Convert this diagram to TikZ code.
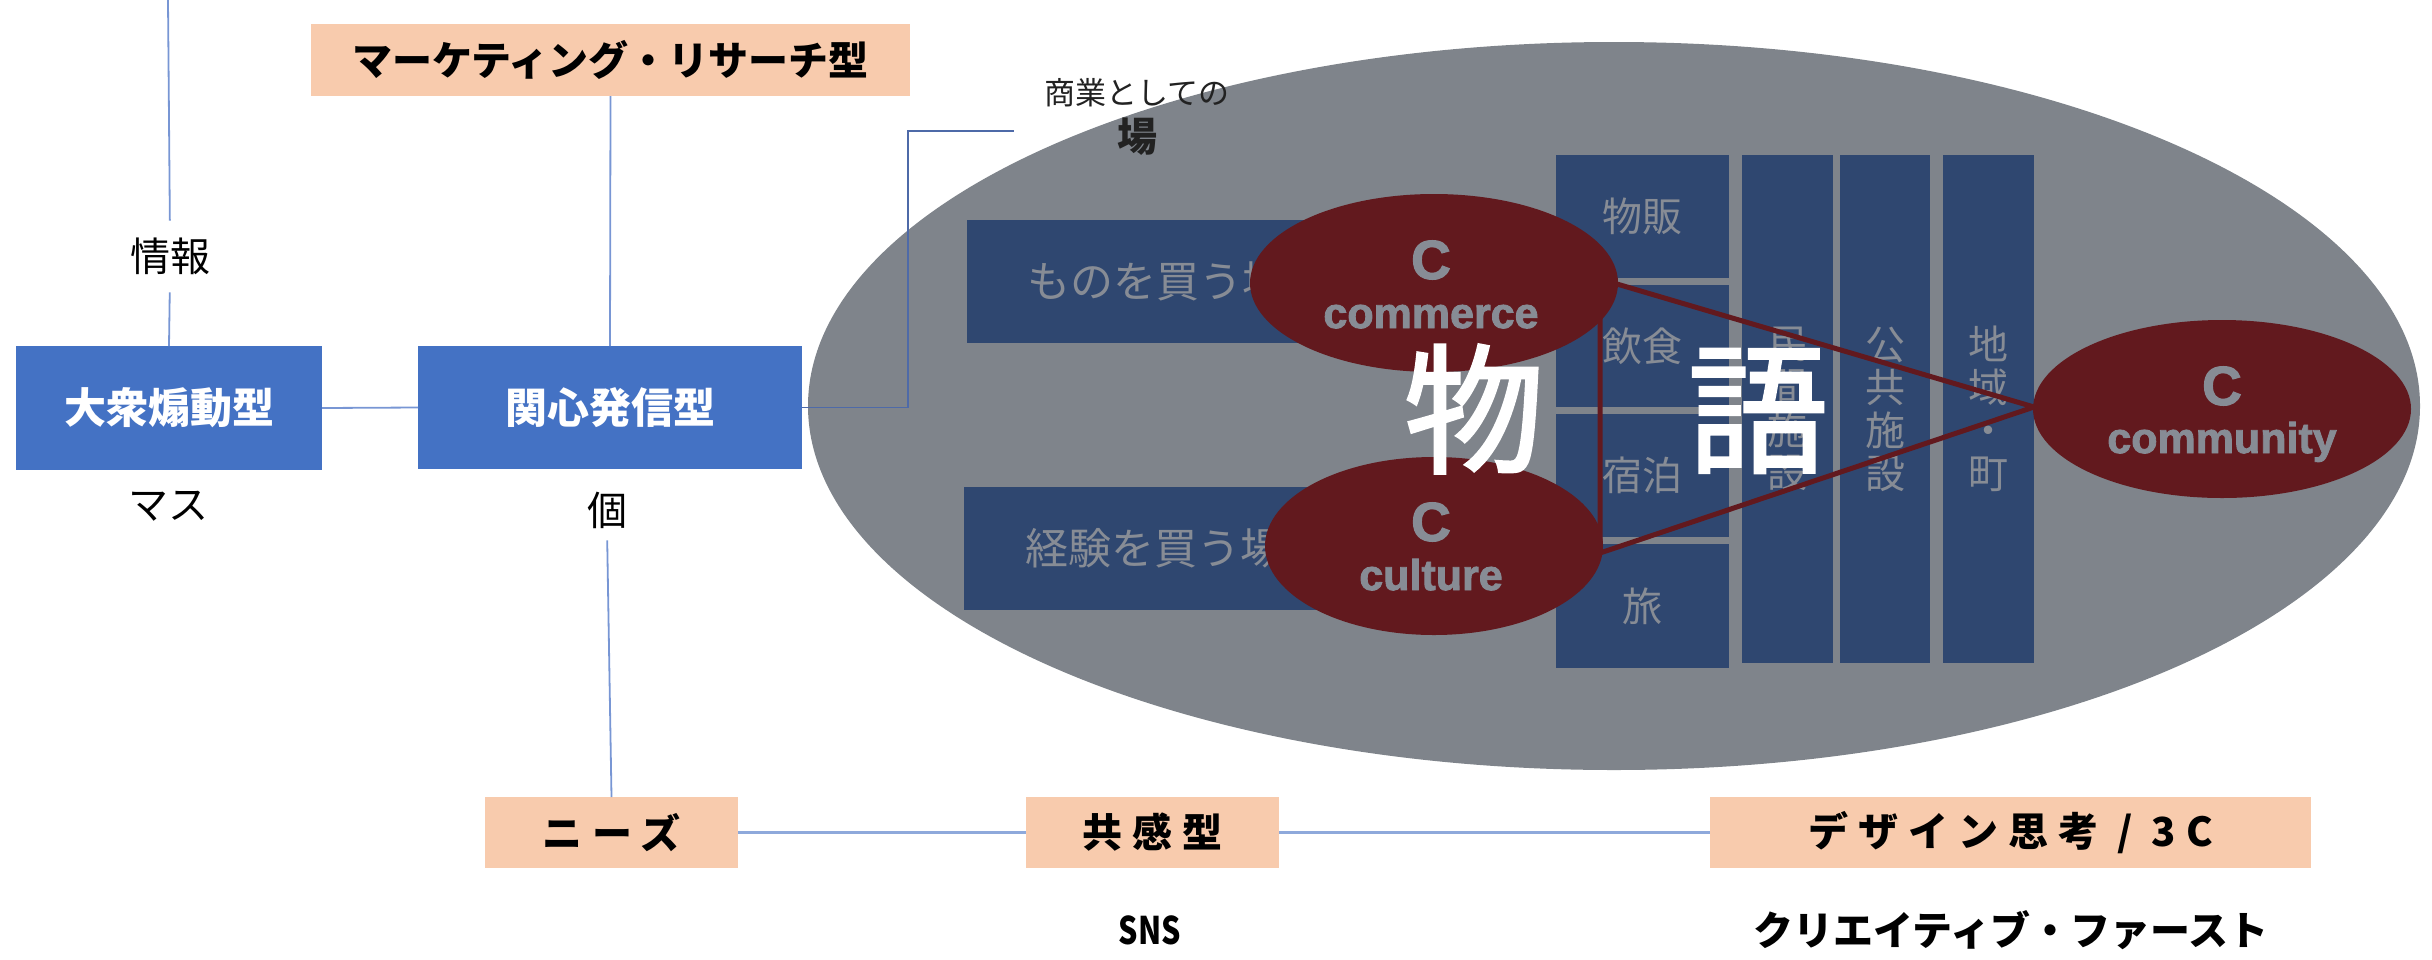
\documentclass[tikz,border=0pt]{standalone}
\usepackage{fontspec}
\usepackage{graphicx}
\setmainfont{Noto Sans CJK JP}
\newfontfamily\latf{Liberation Sans}[FakeBold=2]
\newfontfamily\medf{Noto Sans CJK JP}[FakeBold=2]
\usetikzlibrary{shapes.geometric}
\definecolor{boxblue}{HTML}{4472C4}
\definecolor{peach}{HTML}{F8CBAD}
\definecolor{ellgray}{HTML}{7F848B}
\definecolor{navy}{HTML}{2F4770}
\definecolor{navytext}{HTML}{878C95}
\definecolor{darkred}{HTML}{62191E}
\definecolor{lineblue}{HTML}{7896D4}
\definecolor{darkline}{HTML}{4E6AA8}
\definecolor{botline}{HTML}{8EA9DB}
\definecolor{lbltxt}{HTML}{222222}
\newcommand{\myfs}[1]{\fontsize{#1}{#1}\selectfont}
\begin{document}
\begin{tikzpicture}[x=1pt,y=-1pt,
  every node/.style={inner sep=0pt, outer sep=0pt},
  bluebox/.style={fill=boxblue, text=white, font=\bfseries\myfs{42}},
  peachbox/.style={fill=peach, text=black},
  navybox/.style={fill=navy, text=navytext, font=\myfs{40}},
  navycol/.style={fill=navy, text=navytext, align=center, minimum width=91, minimum height=508, font=\fontsize{40}{43}\selectfont},
  redell/.style={ellipse, fill=darkred},
  conn/.style={draw=lineblue, line width=1.8pt},
  darkconn/.style={draw=darkline, line width=1.5pt},
  botconn/.style={draw=botline, line width=3pt},
  lbltext/.style={text=black, font=\myfs{40}},
  ctext/.style={text=navytext, font=\latf\bfseries\myfs{55}},
  wtext/.style={text=navytext, font=\latf\bfseries\myfs{43}},
  bigw/.style={text=white, font=\medf\myfs{140}},
  bottxt/.style={font=\bfseries\myfs{40}\addfontfeatures{LetterSpace=25}},
]
\useasboundingbox (0,0) rectangle (2432,959);

% big gray ellipse
\node[ellipse, fill=ellgray, minimum width=1612, minimum height=728] (big) at (1614,406) {};

% navy rectangles
\node[navybox, font=\myfs{43}, minimum width=378, minimum height=123] (mono) at (1156,281.5) {ものを買う場};
\node[navybox, font=\myfs{43}, minimum width=381, minimum height=123] (keiken) at (1154.5,548.5) {経験を買う場};
\node[navybox, minimum width=173, minimum height=123] (buppan) at (1642.5,216.5) {物販};
\node[navybox, minimum width=173, minimum height=122] (inshoku) at (1642.5,346) {飲食};
\node[navybox, minimum width=173, minimum height=123] (shuku) at (1642.5,475.5) {宿泊};
\node[navybox, minimum width=173, minimum height=124] (tabi) at (1642.5,606) {旅};
\node[navycol] (minkan) at (1787.5,409) {民\\間\\施\\設};
\node[navycol, minimum width=90] (kokyo) at (1885,409) {公\\共\\施\\設};
\node[navycol] (chiiki) at (1988.5,409) {地\\域\\・\\町};

% triangle
\coordinate (t1) at (1600,279);
\coordinate (t2) at (2034,407);
\coordinate (t3) at (1600,553);
\draw[darkred, line width=5pt] (t1) -- (t2) -- (t3) -- cycle;

% red ellipses
\node[redell, minimum width=368, minimum height=178] (commerce) at (1434,283) {};
\node[redell, minimum width=338, minimum height=178] (culture) at (1434,546) {};
\node[redell, minimum width=378, minimum height=178] (community) at (2222,409) {};

\node[ctext] (c1) at (1431,260) {C};
\node[wtext, anchor=base] (w1) at (1431,328) {commerce};
\node[ctext] (c2) at (1431,522) {C};
\node[wtext, anchor=base] (w2) at (1431,590) {culture};
\node[ctext] (c3) at (2222,386) {C};
\node[wtext, anchor=base] (w3) at (2222,453) {community};

% big white characters
\node[bigw] (mono1) at (1474,409) {物};
\node[bigw] (go) at (1758,411) {語};

% labels at top of ellipse
\node[text=lbltxt, font=\myfs{31}] (shogyo) at (1137,93) {商業としての};
\node[text=lbltxt, font=\bfseries\myfs{40}] (ba) at (1137,137) {場};

% left blue boxes
\node[bluebox, minimum width=306, minimum height=124] (taishu) at (169,408) {大衆煽動型};
\node[bluebox, minimum width=384, minimum height=123] (kanshin) at (610,407.5) {関心発信型};
\node[peachbox, font=\bfseries\myfs{40}, minimum width=599, minimum height=72] (marketing) at (610.5,60) {マーケティング・リサーチ型\hspace{24pt}};

\node[lbltext] (joho) at (170,256) {情報};
\node[lbltext] (mass) at (168,506) {マス};
\node[lbltext] (ko) at (607,510) {個};

% bottom boxes
\node[peachbox, bottxt, minimum width=253, minimum height=71] (needs) at (611.5,832.5) {ニーズ};
\node[peachbox, bottxt, minimum width=253, minimum height=71] (kyokan) at (1152.5,832.5) {共感型};
\node[peachbox, bottxt, minimum width=601, minimum height=71] (design) at (2010.5,832.5) {デザイン思考 / 3C};
\node[font=\bfseries\myfs{38}] (sns) at (1150,930) {\scalebox{0.8}[1]{SNS}};
\node[font=\bfseries\myfs{40}] (creative) at (2011,930) {クリエイティブ・ファースト};

% connectors
\coordinate (topend) at (168,0);
\draw[conn, shorten >=17pt] (topend) -- (joho.north);
\draw[conn, shorten <=18pt] (joho.south) -- (taishu.north);
\draw[conn] (taishu.east) -- (kanshin.west);
\draw[conn] (marketing.south) -- (kanshin.north);
\draw[conn, shorten <=12pt] (ko.south) -- (needs.north);
\coordinate (lblpt) at (1014,131);
\draw[darkconn] (kanshin.east) -- ++(106,0) |- (lblpt);
\draw[botconn] (needs.east) -- (kyokan.west);
\draw[botconn] (kyokan.east) -- (design.west);
\end{tikzpicture}
\end{document}
